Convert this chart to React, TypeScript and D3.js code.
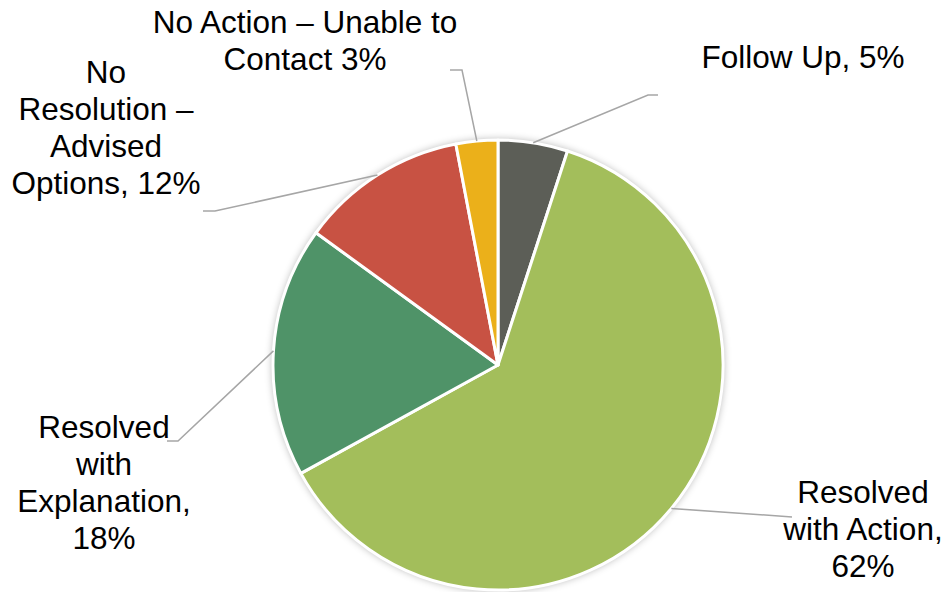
import React from "react";
import * as d3 from "d3";

const categories = [
  "Follow Up",
  "Resolved with Action",
  "Resolved with Explanation",
  "No Resolution – Advised Options",
  "No Action – Unable to Contact",
];
const values = [5, 62, 18, 12, 3];
const colors = ["#5c5e57", "#a3be5b", "#4f9368", "#c85243", "#ebb01a"];
const labelLines = [
  ["Follow Up, 5%"],
  ["Resolved", "with Action,", "62%"],
  ["Resolved", "with", "Explanation,", "18%"],
  ["No", "Resolution –", "Advised", "Options, 12%"],
  ["No Action – Unable to", "Contact 3%"],
];

const W = 946;
const H = 592;
const cx = 498;
const cy = 365;
const R = 225;
const fontSize = 31.5;
const lineH = 37;

// label layout: text center x, first baseline y, elbow point, end point
const labelLayout = [
  { x: 803, y: 68, elbow: [648, 95], end: [658, 95] },
  { x: 863, y: 503, elbow: [792, 517], end: [792, 517] },
  { x: 104, y: 438, elbow: [178, 441], end: [167, 441] },
  { x: 106, y: 83, elbow: [215, 211], end: [203, 211] },
  { x: 305, y: 33, elbow: [462, 70], end: [450, 70] },
];

export default function App() {
  const pie = d3
    .pie<number>()
    .sort(null)
    .value((d) => d);
  const arcs = pie(values);
  const arc = d3.arc<d3.PieArcDatum<number>>().innerRadius(0).outerRadius(R);

  return (
    <svg
      width={W}
      height={H}
      style={{ position: "absolute", left: 0, top: 0, background: "#fff" }}
      fontFamily="'Liberation Sans', Arial, sans-serif"
    >
      <defs>
        <filter id="shadow" x="-20%" y="-20%" width="140%" height="140%">
          <feGaussianBlur in="SourceAlpha" stdDeviation="4" />
          <feOffset dx="0" dy="0" result="b" />
          <feComponentTransfer>
            <feFuncA type="linear" slope="0.35" />
          </feComponentTransfer>
          <feMerge>
            <feMergeNode />
            <feMergeNode in="SourceGraphic" />
          </feMerge>
        </filter>
      </defs>
      <g transform={`translate(${cx},${cy})`}>
        <circle r={R} fill="#fff" filter="url(#shadow)" />
        {arcs.map((a, i) => (
          <path
            key={categories[i]}
            d={arc(a) || ""}
            fill={colors[i]}
            stroke="#fff"
            strokeWidth={3}
            strokeLinejoin="round"
          />
        ))}
      </g>
      {arcs.map((a, i) => {
        const mid = (a.startAngle + a.endAngle) / 2;
        const sx = cx + R * Math.sin(mid);
        const sy = cy - R * Math.cos(mid);
        const L = labelLayout[i];
        return (
          <polyline
            key={"l" + i}
            points={`${sx},${sy} ${L.elbow[0]},${L.elbow[1]} ${L.end[0]},${L.end[1]}`}
            fill="none"
            stroke="#a6a6a6"
            strokeWidth={1.5}
          />
        );
      })}
      {labelLines.map((lines, i) => (
        <text
          key={"t" + i}
          x={labelLayout[i].x}
          y={labelLayout[i].y}
          textAnchor="middle"
          fontSize={fontSize}
          fill="#000"
        >
          {lines.map((ln, j) => (
            <tspan key={j} x={labelLayout[i].x} y={labelLayout[i].y + j * lineH}>
              {ln}
            </tspan>
          ))}
        </text>
      ))}
    </svg>
  );
}
